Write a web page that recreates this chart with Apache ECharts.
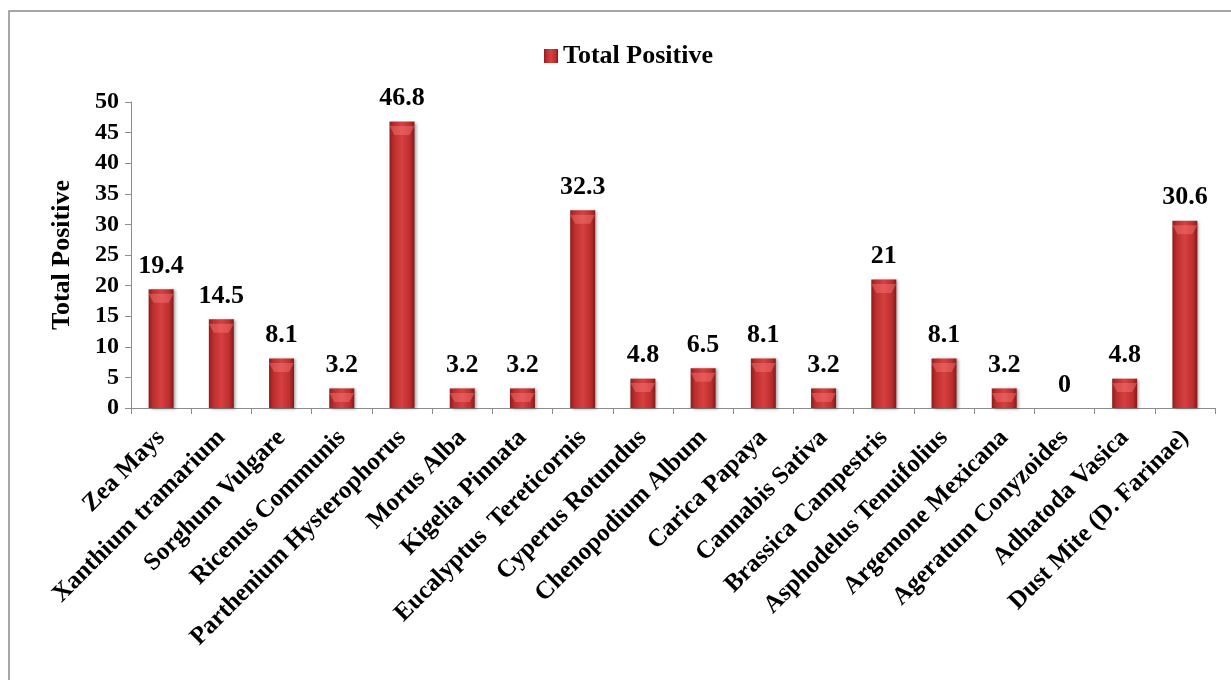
<!DOCTYPE html>
<html>
<head>
<meta charset="utf-8">
<script src="https://cdn.jsdelivr.net/npm/echarts@6/dist/echarts.min.js"></script>
<style>
  html, body { margin: 0; padding: 0; background: #fff; }
  #chart { width: 1231px; height: 680px; }
</style>
</head>
<body>
<div id="chart"></div>
<script>
// Allergen extracts and the percentage of patients testing positive
const categories = [
  'Zea Mays', 'Xanthium tramarium', 'Sorghum Vulgare', 'Ricenus Communis',
  'Parthenium Hysterophorus', 'Morus Alba', 'Kigelia Pinnata', 'Eucalyptus  Tereticornis',
  'Cyperus Rotundus', 'Chenopodium Album', 'Carica Papaya', 'Cannabis Sativa',
  'Brassica Campestris', 'Asphodelus Tenuifolius', 'Argemone Mexicana',
  'Ageratum Conyzoides', 'Adhatoda Vasica', 'Dust Mite (D. Farinae)'
];
const totalPositive = [19.4, 14.5, 8.1, 3.2, 46.8, 3.2, 3.2, 32.3, 4.8, 6.5, 8.1, 3.2, 21, 8.1, 3.2, 0, 4.8, 30.6];
const yTicks = { min: 0, max: 50, interval: 5 };

const FONT = '"Liberation Serif", "Times New Roman", serif';
const AXIS_GREY = '#8c8c8c';

const barFill = new echarts.graphic.LinearGradient(0, 0, 1, 0, [
  { offset: 0, color: '#901c1c' },
  { offset: 0.18, color: '#bd2e2e' },
  { offset: 0.5, color: '#d64040' },
  { offset: 0.82, color: '#bd2e2e' },
  { offset: 1, color: '#861919' }
]);

const chart = echarts.init(document.getElementById('chart'), null, { renderer: 'canvas' });

chart.setOption({
  backgroundColor: '#fff',
  animation: false,
  graphic: [{
    type: 'rect',
    shape: { x: 9, y: 11, width: 1300, height: 800 },
    style: { fill: 'none', stroke: '#8a8a8a', lineWidth: 1.5 },
    silent: true
  }],
  legend: {
    data: ['Total Positive'],
    left: 539,
    top: 38,
    icon: 'rect',
    itemWidth: 14,
    itemHeight: 14,
    itemGap: 4,
    textStyle: { fontFamily: FONT, fontWeight: 'bold', fontSize: 26, color: '#000' }
  },
  grid: { left: 131, right: 16, top: 102, bottom: 272, containLabel: false },
  xAxis: {
    type: 'category',
    data: categories,
    axisLine: { lineStyle: { color: AXIS_GREY, width: 1 } },
    axisTick: { show: true, alignWithLabel: false, length: 6, lineStyle: { color: AXIS_GREY } },
    axisLabel: {
      interval: 0,
      rotate: 45,
      margin: 26,
      fontFamily: FONT,
      fontWeight: 'bold',
      fontSize: 25,
      color: '#000'
    }
  },
  yAxis: {
    type: 'value',
    min: yTicks.min,
    max: yTicks.max,
    interval: yTicks.interval,
    name: 'Total Positive',
    nameLocation: 'middle',
    nameGap: 56,
    nameRotate: 90,
    nameTextStyle: { fontFamily: FONT, fontWeight: 'bold', fontSize: 26, color: '#000' },
    axisLine: { show: true, lineStyle: { color: AXIS_GREY, width: 1 } },
    axisTick: { show: true, length: 6, lineStyle: { color: AXIS_GREY } },
    splitLine: { show: false },
    axisLabel: {
      margin: 12,
      fontFamily: FONT,
      fontWeight: 'bold',
      fontSize: 24,
      color: '#000'
    }
  },
  series: [
    {
      name: 'Total Positive',
      type: 'bar',
      data: totalPositive,
      barWidth: 25,
      itemStyle: {
        color: barFill,
        shadowColor: 'rgba(0,0,0,0.35)',
        shadowBlur: 3,
        shadowOffsetX: 2,
        shadowOffsetY: 1
      },
      label: {
        show: true,
        position: 'top',
        distance: 10,
        fontFamily: FONT,
        fontWeight: 'bold',
        fontSize: 26,
        color: '#000'
      },
      z: 2
    },
    {
      // bevel highlight on each bar top
      name: 'bevel',
      type: 'pictorialBar',
      data: totalPositive.map(v => ({ value: v, symbolSize: v > 0 ? [25, 9] : [0, 0] })),
      symbol: 'path://M0,0 L100,0 L80,100 L20,100 Z M30,0 L70,0 L50,80 Z',
      symbolPosition: 'end',
      symbolOffset: [0, '50%'],
      symbolClip: false,
      barGap: '-100%',
      itemStyle: { color: 'rgba(255,130,130,0.4)' },
      silent: true,
      z: 3
    }
  ]
});
</script>
</body>
</html>
